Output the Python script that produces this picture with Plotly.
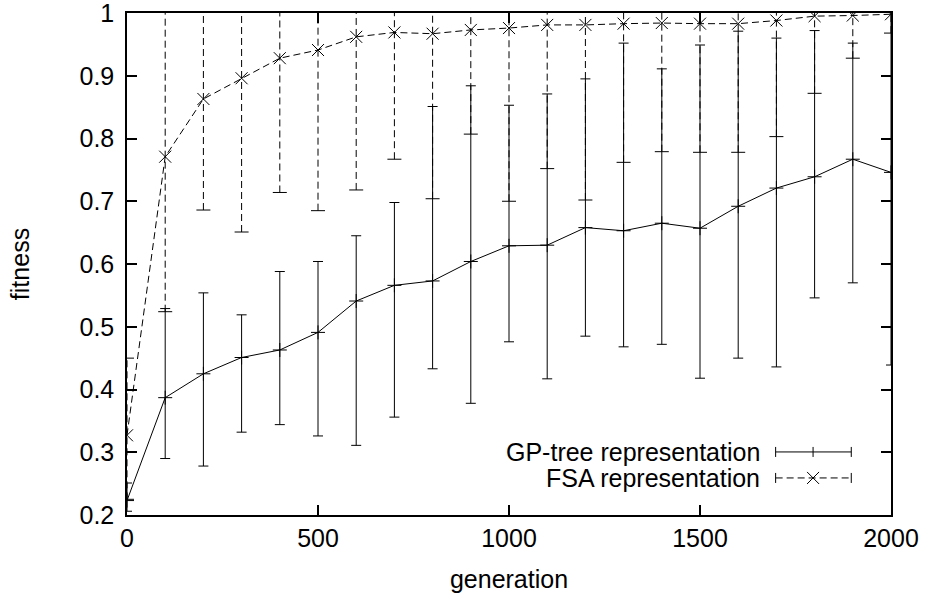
import plotly.graph_objects as go

# ---- data ----
generations = [0, 100, 200, 300, 400, 500, 600, 700, 800, 900, 1000,
               1100, 1200, 1300, 1400, 1500, 1600, 1700, 1800, 1900, 2000]

gp_mean = [0.223, 0.387, 0.425, 0.451, 0.463, 0.491, 0.541, 0.566, 0.573, 0.604, 0.629,
           0.630, 0.658, 0.653, 0.665, 0.657, 0.692, 0.721, 0.739, 0.767, 0.746]
gp_upper = [0.251, 0.529, 0.554, 0.519, 0.588, 0.604, 0.645, 0.698, 0.851, 0.884, 0.853,
            0.871, 0.895, 0.952, 0.911, 0.949, 0.971, 0.960, 0.972, 0.952, 1.050]
gp_lower = [0.206, 0.290, 0.278, 0.332, 0.344, 0.326, 0.311, 0.356, 0.433, 0.378, 0.476,
            0.417, 0.485, 0.468, 0.472, 0.418, 0.450, 0.436, 0.546, 0.570, 0.439]

fsa_mean = [0.327, 0.771, 0.863, 0.896, 0.928, 0.941, 0.962, 0.969, 0.967, 0.973, 0.976,
            0.981, 0.981, 0.983, 0.984, 0.983, 0.983, 0.988, 0.995, 0.996, 0.998]
fsa_upper = [0.450, 1.02, 1.04, 1.14, 1.14, 1.20, 1.21, 1.17, 1.23, 1.14, 1.25,
             1.21, 1.26, 1.20, 1.19, 1.19, 1.19, 1.17, 1.12, 1.06, 1.03]
fsa_lower = [0.225, 0.524, 0.686, 0.651, 0.714, 0.685, 0.718, 0.767, 0.704, 0.807, 0.700,
             0.752, 0.702, 0.762, 0.779, 0.778, 0.778, 0.803, 0.872, 0.928, 0.968]

y_tickvals = [0.2, 0.3, 0.4, 0.5, 0.6, 0.7, 0.8, 0.9, 1.0]
y_ticktext = ["0.2", "0.3", "0.4", "0.5", "0.6", "0.7", "0.8", "0.9", "1"]
x_tickvals = [0, 500, 1000, 1500, 2000]
x_ticktext = ["0", "500", "1000", "1500", "2000"]

series_names = ["GP-tree representation", "FSA representation"]

FONT = "Liberation Sans, Arial, Helvetica, sans-serif"
FS = 25
DASH = "7px,4px"

fig = go.Figure()

# GP-tree: solid line, '+' markers, solid error bars
fig.add_trace(go.Scatter(
    x=generations, y=gp_mean, mode="lines+markers",
    line=dict(color="black", width=1),
    marker=dict(symbol="cross-thin", size=10, line=dict(color="black", width=1)),
    error_y=dict(type="data", symmetric=False,
                 array=[u - m for u, m in zip(gp_upper, gp_mean)],
                 arrayminus=[m - l for m, l in zip(gp_mean, gp_lower)],
                 color="black", thickness=1, width=5),
    showlegend=False, name=series_names[0]))

# FSA: dashed error bars drawn as dashed segments with caps
seg_x, seg_y = [], []
for g, lo, hi in zip(generations, fsa_lower, fsa_upper):
    seg_x += [g, g, None]
    seg_y += [lo, hi, None]
fig.add_trace(go.Scatter(
    x=seg_x, y=seg_y, mode="lines",
    line=dict(color="black", width=1, dash=DASH),
    showlegend=False, hoverinfo="skip"))
fig.add_trace(go.Scatter(
    x=generations + generations, y=fsa_lower + fsa_upper, mode="markers",
    marker=dict(symbol="line-ew", size=10, line=dict(color="black", width=1)),
    showlegend=False, hoverinfo="skip", cliponaxis=True))
fig.add_trace(go.Scatter(
    x=generations, y=fsa_mean, mode="lines+markers",
    line=dict(color="black", width=1, dash=DASH),
    marker=dict(symbol="x-thin", size=12, line=dict(color="black", width=1)),
    showlegend=False, name=series_names[1], cliponaxis=True))

# ---- custom gnuplot-style key (bottom right) ----
key_text_x = 0.831
key_left, key_mid, key_right = 0.849, 0.898, 0.948
key_rows = [0.1256, 0.0738]
shapes = []
annotations = []
for i, (name, yy) in enumerate(zip(series_names, key_rows)):
    annotations.append(dict(xref="paper", yref="paper", x=key_text_x, y=yy,
                            text=name, showarrow=False, xanchor="right", yanchor="middle",
                            font=dict(family=FONT, size=FS, color="black")))
    ldash = "solid" if i == 0 else DASH
    shapes.append(dict(type="line", xref="paper", yref="paper",
                       x0=key_left, x1=key_right, y0=yy, y1=yy,
                       line=dict(color="black", width=1, dash=ldash)))
    for xe in (key_left, key_right):
        shapes.append(dict(type="line", xref="paper", yref="paper",
                           xsizemode="pixel", ysizemode="pixel",
                           xanchor=xe, yanchor=yy, x0=0, x1=0, y0=-5, y1=5,
                           line=dict(color="black", width=1)))
    if i == 0:
        shapes.append(dict(type="line", xref="paper", yref="paper",
                           xsizemode="pixel", ysizemode="pixel",
                           xanchor=key_mid, yanchor=yy, x0=0, x1=0, y0=-5, y1=5,
                           line=dict(color="black", width=1)))
    else:
        for a, b in ((-6, 6), (6, -6)):
            shapes.append(dict(type="line", xref="paper", yref="paper",
                               xsizemode="pixel", ysizemode="pixel",
                               xanchor=key_mid, yanchor=yy, x0=a, x1=b, y0=-6, y1=6,
                               line=dict(color="black", width=1)))

fig.update_layout(
    width=928, height=599,
    margin=dict(l=127, r=37, t=13, b=84),
    paper_bgcolor="white", plot_bgcolor="white",
    font=dict(family=FONT, size=FS, color="black"),
    shapes=shapes, annotations=annotations,
    xaxis=dict(range=[0, 2000], tickvals=x_tickvals, ticktext=x_ticktext,
               ticks="inside", ticklen=10, tickwidth=1.5, tickcolor="black",
               showline=True, linecolor="black", linewidth=1.5, mirror="ticks",
               showgrid=False, zeroline=False, automargin=False,
               ticklabeloverflow="allow",
               title=dict(text="generation", standoff=20, font=dict(size=FS)),
               tickfont=dict(size=FS)),
    yaxis=dict(range=[0.2, 1.0], tickvals=y_tickvals, ticktext=y_ticktext,
               ticks="inside", ticklen=10, tickwidth=1.5, tickcolor="black",
               showline=True, linecolor="black", linewidth=1.5, mirror="ticks",
               showgrid=False, zeroline=False, automargin=False,
               ticklabeloverflow="allow", ticklabelstandoff=6,
               title=dict(text="fitness", standoff=43, font=dict(size=FS)),
               tickfont=dict(size=FS)),
)

# remove the browser's default 8px body margin so the figure sits at the page origin
fig.write_html("out.html",
               config={"displayModeBar": False},
               post_script="document.body.style.margin='0';document.body.style.overflow='hidden';")
